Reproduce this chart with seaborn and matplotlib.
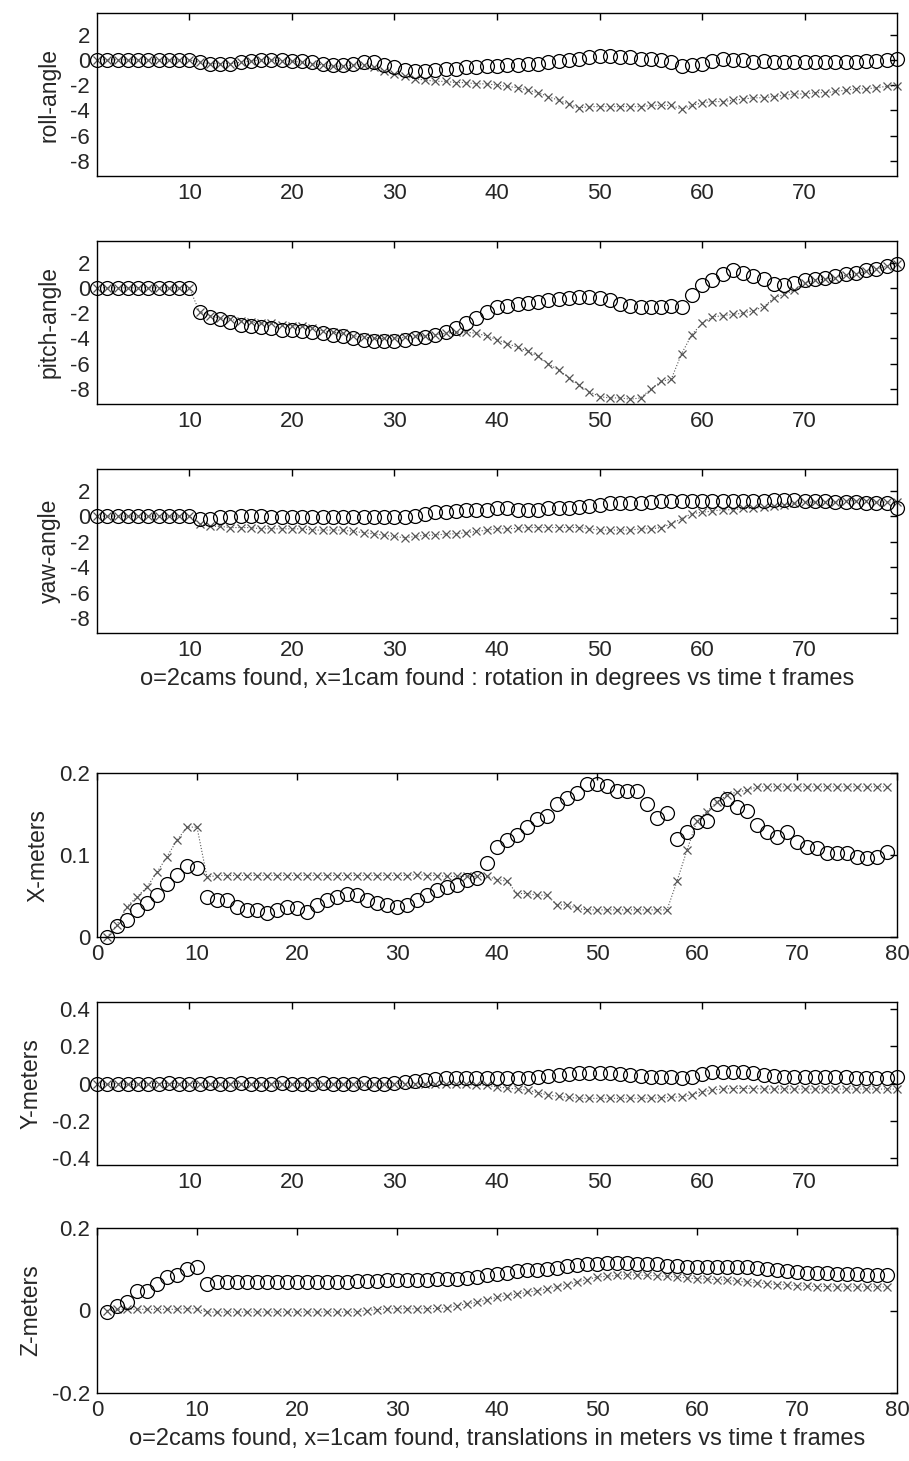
import matplotlib
matplotlib.use("Agg")
import matplotlib.pyplot as plt
import seaborn as sns
import numpy as np
import pandas as pd

#---- Data -------------------------------------------------------------####

frames = list(range(1, 80))

roll_2cam = [0, 0, 0, 0, 0, 0, 0, 0, 0, 0,
             -0.2, -0.3, -0.3, -0.3, -0.2,
             -0.1, 0, 0, 0, -0.1, -0.1, -0.2,
             -0.3, -0.4, -0.4, -0.3, -0.2, -0.2,
             -0.4, -0.6, -0.8, -0.9, -0.9, -0.8, -0.7,
             -0.7, -0.6, -0.6, -0.5, -0.5, -0.4, -0.4, -0.3, -0.3, -0.2,
             -0.1, 0, 0.1, 0.2, 0.3, 0.3,
             0.2, 0.2, 0.1, 0.1, 0,
             -0.2, -0.5, -0.4, -0.3,
             -0.1, 0.1, 0, 0,
             -0.2, -0.1, -0.2, -0.2, -0.2, -0.2, -0.2, -0.2, -0.2, -0.2, -0.2, -0.1, -0.1, 0, 0.1]
roll_1cam = [0, 0, 0, 0, 0, 0, 0, 0, 0, 0,
             -0.2, -0.3, -0.3, -0.3, -0.2, -0.1, 0, 0, -0.1, -0.1, -0.2, -0.3, -0.4, -0.5, -0.5, -0.4, -0.4,
             -0.6, -0.9, -1.1, -1.3, -1.5, -1.6, -1.7, -1.7,
             -1.8, -1.8, -1.9, -1.9, -2.0, -2.1, -2.2, -2.4, -2.6, -2.9,
             -3.2, -3.5, -3.8, -3.7, -3.7, -3.7, -3.7, -3.7, -3.7, -3.6, -3.6, -3.6,
             -3.9, -3.6, -3.4, -3.3, -3.3, -3.2, -3.1, -3.0, -3.0, -2.9, -2.8, -2.7, -2.7, -2.6, -2.6,
             -2.5, -2.4, -2.3, -2.3, -2.2, -2.1, -2.05]

pitch_2cam = [0, 0, 0, 0, 0, 0, 0, 0, 0, 0,
              -1.9, -2.3, -2.5, -2.7, -2.9, -3.0, -3.1, -3.2, -3.3, -3.3,
              -3.4, -3.5, -3.6, -3.7, -3.8, -4.0, -4.1, -4.2, -4.2, -4.2,
              -4.1, -4.0, -3.9, -3.7, -3.5, -3.2, -2.8, -2.4,
              -1.9, -1.5, -1.4, -1.3, -1.2, -1.1, -1.0, -0.9, -0.8, -0.7, -0.75, -0.8,
              -1.0, -1.3, -1.4, -1.5, -1.55, -1.5, -1.4, -1.55,
              -0.6, 0.2, 0.6, 1.1, 1.4, 1.2, 0.9, 0.7,
              0.3, 0.2, 0.4, 0.6, 0.7, 0.8, 0.9, 1.1, 1.2, 1.4, 1.5, 1.7, 1.9]
pitch_1cam = [0, 0, 0, 0, 0, 0, 0, 0, 0, 0,
              -1.9, -2.2, -2.4, -2.5, -2.6, -2.7, -2.8, -2.8, -2.9, -3.0,
              -3.0, -3.2, -3.4, -3.5, -3.6, -3.8, -3.9, -4.0, -4.0, -4.0,
              -3.9, -3.8, -3.8, -3.7, -3.6, -3.5, -3.5,
              -3.6, -3.8, -4.1, -4.4, -4.7, -5.0, -5.4, -6.0, -6.5, -7.1, -7.7, -8.2, -8.6,
              -8.7, -8.7, -8.8, -8.7, -8.0, -7.4, -7.2,
              -5.2, -3.7, -2.8, -2.3, -2.2, -2.1, -2.0, -1.8, -1.5, -0.8, -0.5, -0.2,
              0.4, 0.6, 0.7, 0.8, 1.0, 1.1, 1.3, 1.5, 1.7, 1.9]

yaw_2cam = [0, 0, 0, 0, 0, 0, 0, 0, 0, 0,
            -0.2, -0.2, -0.1, -0.1, 0, 0, 0, -0.1, -0.1, -0.1, -0.1, -0.1, -0.1, -0.1, -0.1,
            -0.1, -0.1, -0.1, -0.1, -0.1, -0.1, 0,
            0.2, 0.3, 0.3, 0.4, 0.5, 0.5, 0.5, 0.6, 0.6, 0.5, 0.5, 0.5, 0.6,
            0.6, 0.6, 0.7, 0.8, 0.9, 1.0, 1.0, 1.0, 1.0, 1.1, 1.2,
            1.2, 1.2, 1.2, 1.2, 1.2, 1.2, 1.2, 1.2, 1.2, 1.2, 1.3, 1.3, 1.3, 1.2, 1.2, 1.2,
            1.1, 1.1, 1.1, 1.0, 1.0, 1.0, 0.6]
yaw_1cam = [0, 0, 0, 0, 0, 0, 0, 0, 0, 0,
            -0.6, -0.8, -0.8, -0.9, -0.9, -0.9, -1.0, -1.0, -1.0, -1.0,
            -1.0, -1.1, -1.1, -1.1, -1.1, -1.2, -1.3, -1.4, -1.5, -1.6,
            -1.7, -1.6, -1.5, -1.5, -1.4, -1.4, -1.3, -1.2, -1.1, -1.0,
            -1.0, -0.95, -0.9, -0.9, -0.9, -0.9, -0.9, -0.9, -1.0, -1.1, -1.1, -1.1, -1.1, -1.0, -1.0, -0.9,
            -0.6, -0.2, 0.2, 0.3, 0.4, 0.5, 0.5, 0.6, 0.6, 0.7, 0.8, 0.9, 1.0, 1.1,
            1.1, 1.1, 1.1, 1.2, 1.2, 1.2, 1.1, 1.1, 1.1]

xm_2cam = [0.0, 0.013, 0.021, 0.033, 0.041, 0.051, 0.065, 0.076, 0.086, 0.084,
           0.049, 0.045, 0.045, 0.037, 0.033, 0.033, 0.029, 0.033, 0.037, 0.035,
           0.031, 0.039, 0.045, 0.049, 0.053, 0.051, 0.045, 0.041, 0.039, 0.037,
           0.039, 0.045, 0.051, 0.057, 0.061, 0.063, 0.070, 0.072, 0.090, 0.110,
           0.118, 0.124, 0.134, 0.144, 0.148, 0.162, 0.170, 0.176, 0.186, 0.186,
           0.184, 0.178, 0.178, 0.178, 0.162, 0.145, 0.151, 0.120, 0.128, 0.140,
           0.142, 0.162, 0.168, 0.158, 0.154, 0.136, 0.128, 0.122, 0.128, 0.116,
           0.110, 0.108, 0.102, 0.102, 0.102, 0.098, 0.096, 0.098, 0.104]
xm_1cam = [0.0, 0.015, 0.037, 0.049, 0.061, 0.079, 0.098, 0.118, 0.134, 0.134,
           0.073, 0.075, 0.075, 0.075, 0.075, 0.075, 0.075, 0.075, 0.075, 0.075,
           0.075, 0.075, 0.075, 0.075, 0.075, 0.075, 0.075, 0.075, 0.075, 0.075,
           0.075, 0.076, 0.075, 0.075, 0.074, 0.074, 0.074, 0.074, 0.074, 0.070,
           0.068, 0.053, 0.053, 0.051, 0.051, 0.039, 0.039, 0.035, 0.033, 0.033,
           0.033, 0.033, 0.033, 0.033, 0.033, 0.033, 0.033, 0.068, 0.106, 0.142,
           0.153, 0.165, 0.173, 0.177, 0.179, 0.183, 0.183, 0.183, 0.183, 0.183,
           0.183, 0.183, 0.183, 0.183, 0.183, 0.183, 0.183, 0.183, 0.183]

ym_2cam = [0, -0.005, 0, -0.005, -0.005, 0, 0, 0.005, 0, 0,
           0, 0.005, 0, 0, 0.005, 0, 0, 0, 0.005, 0,
           0, 0, 0.005, 0, 0, 0, 0.005, 0, 0, 0.005,
           0.01, 0.015, 0.02, 0.025, 0.027, 0.027, 0.027, 0.027, 0.027, 0.027,
           0.03, 0.03, 0.03, 0.035, 0.04,
           0.045, 0.05, 0.054, 0.055, 0.055, 0.054, 0.05, 0.045, 0.04, 0.035,
           0.035, 0.035, 0.03, 0.035,
           0.05, 0.06, 0.062, 0.062, 0.06, 0.055,
           0.045, 0.04, 0.035, 0.035, 0.035, 0.035, 0.035, 0.035, 0.035, 0.03, 0.03, 0.03, 0.03, 0.035]
ym_1cam = [0, -0.005, 0, -0.005, -0.005, 0, 0, 0, 0, 0,
           0, 0, 0, 0, 0, 0, 0, 0, 0, 0,
           0, 0, 0, 0, 0, 0, 0, 0, 0, 0,
           0, 0, -0.005, -0.005, -0.005,
           -0.005, -0.005, -0.01, -0.01, -0.018, -0.025, -0.03, -0.036, -0.05, -0.062,
           -0.07, -0.075, -0.08, -0.08, -0.08, -0.08, -0.08, -0.08, -0.08, -0.08, -0.078, -0.075,
           -0.072, -0.06, -0.045, -0.035, -0.03, -0.027, -0.027, -0.027,
           -0.03, -0.03, -0.03, -0.03, -0.03, -0.03, -0.03, -0.03, -0.03, -0.03, -0.03, -0.03, -0.03, -0.03]

zm_2cam = [-0.004, 0.010, 0.020, 0.048, 0.048, 0.065, 0.081, 0.085, 0.101, 0.105,
           0.065, 0.069, 0.069, 0.069, 0.069, 0.070, 0.070, 0.070, 0.070, 0.070,
           0.070, 0.070, 0.070, 0.070, 0.070, 0.071, 0.072, 0.072, 0.073, 0.073,
           0.073, 0.074, 0.075, 0.076, 0.077, 0.077, 0.079, 0.082, 0.085, 0.089,
           0.092, 0.095, 0.097, 0.099, 0.101, 0.104, 0.107, 0.110, 0.112, 0.113,
           0.114, 0.114, 0.114, 0.113, 0.113, 0.112, 0.109, 0.107, 0.106, 0.105,
           0.105, 0.105, 0.106, 0.105, 0.105, 0.103, 0.100, 0.097, 0.095, 0.093,
           0.092, 0.091, 0.090, 0.089, 0.089, 0.088, 0.087, 0.086, 0.085]
zm_1cam = [0.0, 0.003, 0.003, 0.003, 0.003, 0.003, 0.003, 0.003, 0.004, 0.004,
           -0.004, -0.004, -0.004, -0.004, -0.004, -0.004, -0.004, -0.004, -0.004, -0.004,
           -0.004, -0.004, -0.004, -0.004, -0.004, -0.004, 0.0, 0.002, 0.004, 0.004,
           0.004, 0.004, 0.004, 0.005, 0.006, 0.012, 0.016, 0.020, 0.026, 0.032,
           0.036, 0.040, 0.044, 0.048, 0.052, 0.058, 0.063, 0.069, 0.075, 0.081,
           0.083, 0.085, 0.086, 0.086, 0.085, 0.084, 0.083, 0.081, 0.079, 0.077,
           0.076, 0.075, 0.073, 0.071, 0.069, 0.067, 0.065, 0.063, 0.062, 0.060,
           0.059, 0.058, 0.058, 0.057, 0.057, 0.057, 0.057, 0.057, 0.057]

angle_ticks = [-8, -6, -4, -2, 0, 2]
angle_labels = ["-8", "-6", "-4", "-2", "0", "2"]
frame_ticks_short = [10, 20, 30, 40, 50, 60, 70]
frame_ticks_full = [0, 10, 20, 30, 40, 50, 60, 70, 80]

rot_xlabel = "o=2cams found, x=1cam found : rotation in degrees vs time t frames"
trans_xlabel = "o=2cams found, x=1cam found, translations in meters vs time t frames"

#---- Style ------------------------------------------------------------####

sns.set_style("white")
plt.rcParams['font.family'] = ['Liberation Sans', 'DejaVu Sans']
plt.rcParams['axes.unicode_minus'] = False
tick_fs = 16
ylab_fs = 16.5
xlab_fs = 17

W, H = 909, 1461
fig = plt.figure(figsize=(W / 100, H / 100), dpi=100)

# (top px, bottom px, label, 2cam, 1cam, xlim, xticks, ylim, yticks, yticklabels, xlabel)
panels = [
    (13, 176, "roll-angle", roll_2cam, roll_1cam, (1, 79), frame_ticks_short,
     (-9.18, 3.7), angle_ticks, angle_labels, None),
    (241, 404, "pitch-angle", pitch_2cam, pitch_1cam, (1, 79), frame_ticks_short,
     (-9.18, 3.7), angle_ticks, angle_labels, None),
    (469, 633, "yaw-angle", yaw_2cam, yaw_1cam, (1, 79), frame_ticks_short,
     (-9.18, 3.7), angle_ticks, angle_labels, rot_xlabel),
    (773, 937, "X-meters", xm_2cam, xm_1cam, (0, 80), frame_ticks_full,
     (0, 0.2), [0, 0.1, 0.2], ["0", "0.1", "0.2"], None),
    (1002, 1165, "Y-meters", ym_2cam, ym_1cam, (1, 79), frame_ticks_short,
     (-0.44, 0.44), [-0.4, -0.2, 0, 0.2, 0.4], ["-0.4", "-0.2", "0", "0.2", "0.4"], None),
    (1228, 1393, "Z-meters", zm_2cam, zm_1cam, (0, 80), frame_ticks_full,
     (-0.2, 0.2), [-0.2, 0, 0.2], ["-0.2", "0", "0.2"], trans_xlabel),
]

left, right = 97, 897

for top, bot, ylab, two_cam, one_cam, xl, xt, yl, yt, ytl, xlab in panels:
    ax = fig.add_axes([left / W, 1 - bot / H, (right - left) / W, (bot - top) / H])
    df = pd.DataFrame({"frame": frames, "two": two_cam, "one": one_cam})

    # 1 camera found: x markers joined by a dotted line
    sns.lineplot(data=df, x="frame", y="one", ax=ax, sort=False, errorbar=None,
                 color="#555555", linestyle=":", linewidth=0.8,
                 marker="x", markersize=6, mec="#555555", mew=0.9, clip_on=False)
    # 2 cameras found: open circles
    sns.lineplot(data=df, x="frame", y="two", ax=ax, sort=False, errorbar=None,
                 color="k", linestyle="none", marker="o", markersize=10,
                 markerfacecolor="none", mec="k", mew=0.9, clip_on=False)

    ax.set_xlim(*xl)
    ax.set_ylim(*yl)
    ax.set_xticks(xt)
    ax.set_xticklabels([str(v) for v in xt])
    ax.set_yticks(yt)
    ax.set_yticklabels(ytl)
    ax.tick_params(direction="in", top=True, right=True, length=5, width=1,
                   labelsize=tick_fs, color="k", pad=5)
    for sp in ax.spines.values():
        sp.set_visible(True)
        sp.set_color("k")
        sp.set_linewidth(1.0)
    ax.set_ylabel(ylab, fontsize=ylab_fs, labelpad=7)
    ax.set_xlabel(xlab if xlab else "", fontsize=xlab_fs, labelpad=5)

fig.savefig("out.png", dpi=100, facecolor="white")
